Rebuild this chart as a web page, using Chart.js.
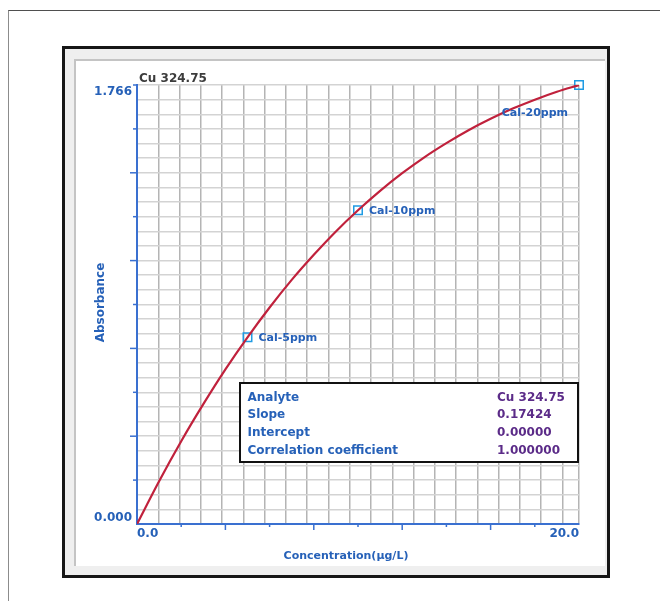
<!DOCTYPE html>
<html>
<head>
<meta charset="utf-8">
<title>Cu 324.75 calibration</title>
<script src="https://cdn.jsdelivr.net/npm/chart.js@4.4.1/dist/chart.umd.min.js"></script>
<style>
  html, body { margin: 0; padding: 0; background: #ffffff; width: 660px; height: 601px; overflow: hidden; }
  .outer { position: absolute; left: 8px; top: 10px; width: 652px; height: 591px;
           border-left: 1px solid #8c8c8c; border-top: 1px solid #4f4f4f; box-sizing: border-box; }
  .frame { position: absolute; left: 62px; top: 46px; width: 548px; height: 532px;
           border: 3px solid #161616; background: #efefef; box-sizing: border-box; }
  .panel { position: absolute; left: 74px; top: 59px; width: 531px; height: 507px;
           border-left: 2px solid #c4c4c4; border-top: 2px solid #c4c4c4; background: #ffffff; box-sizing: border-box; }
  canvas { position: absolute; left: 0; top: 0; }
</style>
</head>
<body>
<div class="outer"></div>
<div class="frame"></div>
<div class="panel"></div>
<canvas id="cal" width="660" height="601"></canvas>
<script>
// Calibration curve (concentration in µg/L, absorbance)
const curveConc = [0, 1, 2, 3, 4, 5, 6, 7, 8, 9, 10, 11, 12, 13, 14, 15, 16, 17, 18, 19, 20];
const curveAbs  = [0, 0.172, 0.333, 0.482, 0.622, 0.751, 0.871, 0.982, 1.083, 1.177, 1.262,
                   1.340, 1.411, 1.475, 1.532, 1.584, 1.630, 1.671, 1.707, 1.739, 1.766];

// Calibration standards
const stdNames = ['Cal-5ppm', 'Cal-10ppm', 'Cal-20ppm'];
const stdConc  = [5, 10, 20];
const stdAbs   = [0.751, 1.262, 1.766];

// Axis ranges and end labels
const X_MIN = 0, X_MAX = 20;
const Y_MIN = 0, Y_MAX = 1.766;
const xTickLabels = ['0.0', '20.0'];
const yTickLabels = ['0.000', '1.766'];

// Fit summary
const statNames  = ['Analyte', 'Slope', 'Intercept', 'Correlation coefficient'];
const statValues = ['Cu 324.75', '0.17424', '0.00000', '1.000000'];

const plotTitle = 'Cu 324.75';
const xTitle = 'Concentration(µg/L)';
const yTitle = 'Absorbance';

// Styling
const FONT = '"DejaVu Sans", Verdana, sans-serif';
const BLUE = '#2661b8';
const PURPLE = '#5b2b88';
const AXIS_BLUE = '#3a70d0';
const X_GRID_STEP = 0.9625;
const Y_GRID_DIVS = 30;

function gridTicksX(scale) {
  const ticks = [];
  for (let k = 0; k * X_GRID_STEP <= X_MAX + 1e-9; k++) ticks.push({ value: X_MIN + k * X_GRID_STEP });
  if (Math.abs(ticks[ticks.length - 1].value - X_MAX) > 1e-6) ticks.push({ value: X_MAX });
  scale.ticks = ticks;
}
function gridTicksY(scale) {
  const ticks = [];
  for (let k = 0; k <= Y_GRID_DIVS; k++) ticks.push({ value: Y_MIN + (Y_MAX - Y_MIN) * k / Y_GRID_DIVS });
  scale.ticks = ticks;
}

const labelPlacement = [
  { dx: 11, dy: 0.5, align: 'left' },
  { dx: 11, dy: 0.5, align: 'left' },
  { dx: -11, dy: 28, align: 'right' }
];

const decorations = {
  id: 'decorations',
  afterDraw(chart) {
    const { ctx, chartArea: a, scales: { x, y } } = chart;
    ctx.save();

    // axis tick marks at tenths of each range, longer on even steps
    ctx.strokeStyle = AXIS_BLUE;
    ctx.lineWidth = 1.5;
    for (let k = 1; k <= 10; k++) {
      const py = y.getPixelForValue(Y_MIN + (Y_MAX - Y_MIN) * k / 10);
      const ylen = (k % 2 === 0 && k < 10) ? 7 : 4;
      ctx.beginPath(); ctx.moveTo(a.left, py); ctx.lineTo(a.left - ylen, py); ctx.stroke();
      if (k < 10) {
        const px = x.getPixelForValue(X_MIN + (X_MAX - X_MIN) * k / 10);
        const xlen = k % 2 === 0 ? 6 : 3;
        ctx.beginPath(); ctx.moveTo(px, a.bottom); ctx.lineTo(px, a.bottom + xlen); ctx.stroke();
      }
    }

    // end labels of the axes
    ctx.font = 'bold 12px ' + FONT;
    ctx.fillStyle = BLUE;
    ctx.textBaseline = 'alphabetic';
    ctx.textAlign = 'right';
    ctx.fillText(yTickLabels[0], a.left - 5, y.getPixelForValue(Y_MIN) - 3);
    ctx.fillText(yTickLabels[1], a.left - 5, y.getPixelForValue(Y_MAX) + 9.5);
    ctx.textAlign = 'left';
    ctx.fillText(xTickLabels[0], x.getPixelForValue(X_MIN), a.bottom + 12.5);
    ctx.textAlign = 'right';
    ctx.fillText(xTickLabels[1], x.getPixelForValue(X_MAX), a.bottom + 12.5);

    // plot title
    ctx.fillStyle = '#3c3c3c';
    ctx.textAlign = 'left';
    ctx.fillText(plotTitle, a.left + 2, a.top - 3.5);

    // axis titles
    ctx.fillStyle = BLUE;
    ctx.font = 'bold 11px ' + FONT;
    ctx.textAlign = 'center';
    ctx.fillText(xTitle, (a.left + a.right) / 2 - 12, a.bottom + 35);
    ctx.save();
    ctx.font = 'bold 12px ' + FONT;
    ctx.translate(a.left - 33.5, (a.top + a.bottom) / 2 - 2);
    ctx.rotate(-Math.PI / 2);
    ctx.fillText(yTitle, 0, 0);
    ctx.restore();

    // standard labels
    const meta = chart.getDatasetMeta(1);
    ctx.font = 'bold 11px ' + FONT;
    ctx.fillStyle = BLUE;
    ctx.textBaseline = 'middle';
    meta.data.forEach((pt, i) => {
      const p = labelPlacement[i];
      ctx.textAlign = p.align;
      ctx.fillText(stdNames[i], pt.x + p.dx, pt.y + p.dy);
    });

    // fit summary box
    const bx = a.left + 103, by = a.bottom - 141, bw = a.right - 1 - bx, bh = 79;
    ctx.fillStyle = '#ffffff';
    ctx.fillRect(bx, by, bw, bh);
    ctx.strokeStyle = '#111111';
    ctx.lineWidth = 2;
    ctx.strokeRect(bx, by, bw, bh);
    ctx.font = 'bold 12px ' + FONT;
    ctx.textBaseline = 'alphabetic';
    ctx.textAlign = 'left';
    statNames.forEach((name, i) => {
      const ty = by + 17.7 + i * 17.6;
      ctx.fillStyle = BLUE;
      ctx.fillText(name, bx + 7.5, ty);
      ctx.fillStyle = PURPLE;
      ctx.fillText(statValues[i], bx + 257, ty);
    });

    ctx.restore();
  }
};

new Chart(document.getElementById('cal'), {
  type: 'scatter',
  data: {
    datasets: [
      {
        data: curveConc.map((c, i) => ({ x: c, y: curveAbs[i] })),
        showLine: true,
        borderColor: '#c0213c',
        borderWidth: 2.2,
        pointRadius: 0,
        cubicInterpolationMode: 'monotone',
        fill: false
      },
      {
        data: stdConc.map((c, i) => ({ x: c, y: stdAbs[i] })),
        showLine: false,
        pointStyle: 'rect',
        pointRadius: 6,
        pointBorderWidth: 1.5,
        pointBorderColor: '#1f9be3',
        pointBackgroundColor: 'rgba(0,0,0,0)',
        clip: false
      }
    ]
  },
  options: {
    responsive: false,
    animation: false,
    events: [],
    layout: { padding: { left: 127, right: 81, top: 85, bottom: 67 } },
    plugins: { legend: { display: false }, tooltip: { enabled: false }, title: { display: false } },
    scales: {
      x: {
        type: 'linear',
        min: X_MIN,
        max: X_MAX,
        afterBuildTicks: gridTicksX,
        afterFit(scale) { scale.height = 10; },
        ticks: { display: false },
        grid: { color: '#b4b4b4', lineWidth: 1.5, drawTicks: false },
        border: { display: true, color: AXIS_BLUE, width: 2 }
      },
      y: {
        type: 'linear',
        min: Y_MIN,
        max: Y_MAX,
        afterBuildTicks: gridTicksY,
        afterFit(scale) { scale.width = 10; },
        ticks: { display: false },
        grid: { color: '#d3d3d3', lineWidth: 1.5, drawTicks: false },
        border: { display: true, color: AXIS_BLUE, width: 2 }
      }
    }
  },
  plugins: [decorations]
});
</script>
</body>
</html>
